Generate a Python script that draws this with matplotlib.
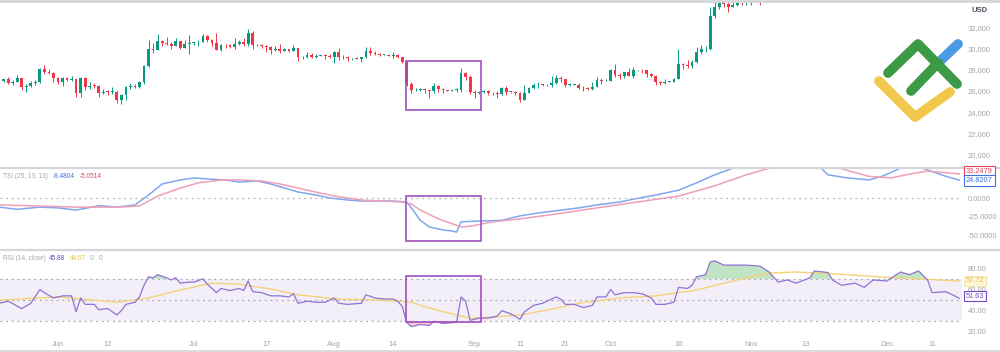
# BTC/USD daily chart with TSI and RSI panes
import pandas as pd
import matplotlib
matplotlib.use("Agg")
import matplotlib.pyplot as plt
import matplotlib.dates as mdates
from matplotlib.patches import Rectangle
from matplotlib.lines import Line2D

plt.rcParams['font.family'] = ['Liberation Sans', 'DejaVu Sans']

##### data - daily candles, 2023-05-19 .. 2023-11-04
candle_start = "2023-05-19"
candle_end = "2023-11-04"

opens = [
    26820, 26890, 27120, 26750, 26850, 27225, 26330, 26475, 26720, 26870, 28085, 27745, 27700,
    27220, 26820, 27250, 27075, 27120, 25760, 27240, 26345, 26500, 26480, 25850, 25940, 25900, 25940, 25130,
    25585, 26330, 26510, 26340, 26845, 28310, 30000, 29900, 30690, 30550, 30470, 30270, 30690, 30080, 30450,
    30480, 30590, 30620, 31160, 30770, 30510, 29900, 30350, 30290, 30170, 30410, 30620, 30390, 31480, 30330,
    30300, 30250, 30140, 29860, 29910, 29800, 29910, 29790, 30080, 29180, 29230, 29350, 29210, 29310, 29350, 29280,
    29230, 29700, 29180, 29180, 29070, 29090, 29050, 29180, 29770, 29580, 29440, 29400, 29420, 29280, 29410,
    29170, 28700, 26630, 26050, 26100, 26190, 26120, 26040, 26430, 26160, 26050, 26000, 26090, 26100, 27730, 27300,
    25930, 25800, 25870, 25970, 25830, 25780, 25750, 26240, 25900, 25900, 25840, 25160, 25840, 26230, 26540,
    26600, 26570, 26530, 26760, 27210, 27130, 26570, 26580, 26580, 26260, 26300, 26220, 26370, 27020, 26910,
    26970, 27990, 27500, 27430, 27790, 27410, 27950, 27970, 27940, 27580, 27390, 26870, 26760, 26860, 26860,
    27160, 28520, 28420, 28330, 28720, 29680, 29920, 30000, 33090, 33900, 34500, 34160, 33910, 34090, 34540, 34500,
    34670, 35440, 34940, 34730,
]
highs = [
    27180, 27160, 27270, 27050, 27480, 27225, 26620, 26930, 26990, 28190, 28430, 28030, 27830,
    27350, 27300, 27310, 27440, 27130, 27340, 27360, 26800, 26780, 26530, 26200, 26090, 26400, 26080, 25750,
    26470, 26780, 26690, 26960, 28400, 30780, 30500, 31400, 30800, 31040, 30650, 31000, 30700, 30840, 31260,
    30650, 30770, 31380, 31310, 30880, 31500, 30440, 30380, 30430, 31030, 30790, 30980, 31800, 31630, 30390,
    30440, 30330, 30240, 30190, 30410, 30050, 29990, 30330, 30090, 29330, 29670, 29560, 29520, 29400, 29440, 29500,
    29730, 30040, 29410, 29310, 29110, 29160, 29240, 30180, 30130, 29720, 29540, 29470, 29470, 29660, 29450,
    29220, 28780, 26810, 26260, 26290, 26250, 26130, 26790, 26550, 26310, 26080, 26170, 26230, 28130, 27750, 27490,
    26130, 25970, 26120, 26080, 25860, 26020, 26400, 26420, 25940, 25970, 25880, 26520, 26370, 26790, 26880,
    26660, 26620, 27410, 27480, 27370, 27150, 26720, 26630, 26730, 26420, 26390, 26820, 27280, 27230, 27080,
    28060, 28580, 27660, 27830, 28120, 28270, 28020, 28090, 27990, 27720, 27470, 26950, 27100, 26960, 27260,
    29970, 28600, 28920, 28890, 30180, 30300, 30200, 33920, 35200, 35080, 34780, 34440, 34450, 34760, 34850, 34710,
    35570, 35980, 34950, 35260,
]
lows = [
    26650, 26830, 26700, 26560, 26820, 26090, 25880, 26350, 26600, 26780, 27560, 27560, 26840,
    26620, 26510, 26920, 26980, 25400, 25400, 26130, 26220, 26300, 25400, 25700, 25650, 25720, 24820, 24800,
    25180, 26160, 26300, 26260, 26660, 28280, 29620, 29830, 30280, 30300, 29930, 30230, 29940, 30050, 29500,
    30330, 30230, 30570, 30660, 30230, 29870, 29720, 30050, 30090, 29960, 30300, 30220, 30260, 29970, 30260,
    30080, 29670, 29520, 29770, 29600, 29720, 29640, 29740, 28860, 29050, 29100, 29100, 29140, 29260, 29040, 29110,
    28620, 28960, 28970, 28780, 28960, 28990, 28700, 29130, 29380, 29350, 29330, 29360, 29250, 29080, 29060,
    28680, 26500, 25800, 25990, 26010, 25810, 25370, 25800, 25860, 25780, 25980, 25980, 25880, 25910, 27030, 25700,
    25330, 25730, 25800, 25640, 25580, 25380, 25620, 25660, 25820, 25580, 24920, 25140, 25780, 26170, 26250,
    26480, 26420, 26390, 26680, 26860, 26380, 26480, 26520, 26220, 26000, 26110, 26100, 26340, 26680, 26890,
    26950, 27330, 27170, 27220, 27370, 27200, 27860, 27700, 27290, 27300, 26560, 26560, 26690, 26810, 26840,
    27120, 28110, 28180, 28150, 28640, 29480, 29690, 29880, 32880, 33700, 33880, 33450, 33870, 34050, 34120, 34100,
    34130, 34420, 34120, 34580,
]
closes = [
    26890, 27120, 26750, 26850, 27225, 26330, 26475, 26720, 26870, 28085, 27745, 27700, 27220,
    26820, 27250, 27075, 27120, 25760, 27240, 26345, 26500, 26480, 25850, 25940, 25900, 25940, 25130, 25585,
    26330, 26510, 26340, 26845, 28310, 30000, 29900, 30690, 30550, 30470, 30270, 30690, 30080, 30450, 30480,
    30590, 30620, 31160, 30770, 30510, 29900, 30350, 30290, 30170, 30410, 30620, 30390, 31480, 30330, 30300,
    30250, 30140, 29860, 29910, 29800, 29910, 29790, 30080, 29180, 29230, 29350, 29210, 29310, 29350, 29280, 29230,
    29700, 29180, 29180, 29070, 29090, 29050, 29180, 29770, 29580, 29440, 29400, 29420, 29280, 29410, 29170,
    28700, 26630, 26050, 26100, 26190, 26120, 26040, 26430, 26160, 26050, 26000, 26090, 26100, 27730, 27300, 25930,
    25800, 25870, 25970, 25830, 25780, 25750, 26240, 25900, 25900, 25840, 25160, 25840, 26230, 26540, 26600,
    26570, 26530, 26760, 27210, 27130, 26570, 26580, 26580, 26260, 26300, 26220, 26370, 27020, 26910, 26970,
    27990, 27500, 27430, 27790, 27410, 27950, 27970, 27940, 27580, 27390, 26870, 26760, 26860, 26860, 27160,
    28520, 28420, 28330, 28720, 29680, 29920, 30000, 33090, 33900, 34500, 34160, 33910, 34090, 34540, 34500, 34670,
    35440, 34940, 34730, 35080,
]

##### TSI (25, 13, 13) - sampled from the chart
tsi_dates = [
    "05-19", "05-23", "05-28", "06-01", "06-05", "06-10", "06-14", "06-18", "06-21", "06-24", "06-28",
    "07-01", "07-05", "07-08", "07-11", "07-15", "07-18", "07-21", "07-24", "07-28", "07-31", "08-04",
    "08-07", "08-10", "08-14", "08-17", "08-18", "08-20", "08-22", "08-25", "08-27", "08-28", "08-29",
    "09-02", "09-07", "09-11", "09-15", "09-19", "09-24", "09-28", "10-03", "10-07", "10-11", "10-16",
    "10-20", "10-24", "10-28", "11-01", "11-07", "11-11", "11-16", "11-18", "11-22", "11-27", "11-30",
    "12-04", "12-07", "12-10", "12-14", "12-17",
]
tsi_values = [
    -12, -15, -12, -13, -16, -10, -12, -9, 4.5, 19.5, 25,
    27.7, 26, 25, 22, 23.6, 19.5, 14, 8.6, 4.5, 0.4, -2.3,
    -3.7, -3.7, -3.7, -5, -13, -30, -39, -43, -44.5, -46, -32,
    -31, -30, -24, -20, -17, -13, -9, -5, 0, 4.5, 11,
    21, 32, 41, 55, 62, 55, 44, 32, 28, 25, 30,
    41, 46, 38.5, 30, 24.8207,
]
signal_dates = [
    "05-19", "05-28", "06-05", "06-14", "06-19", "06-23", "06-28", "07-02", "07-07", "07-11", "07-16",
    "07-20", "07-24", "07-29", "08-02", "08-07", "08-11", "08-16", "08-18", "08-20", "08-24", "08-29",
    "08-31", "09-05", "09-11", "09-19", "09-28", "10-07", "10-16", "10-24", "10-31", "11-05", "11-11",
    "11-18", "11-22", "11-27", "12-02", "12-06", "12-10", "12-17",
]
signal_values = [
    -9, -10.5, -12, -12, -10.5, 3, 14, 21, 25, 25, 23.6,
    19.5, 14, 7, 2, -2.3, -3.7, -5, -7.8, -16, -28, -39,
    -38, -32, -28, -21.4, -13, -5, 3, 17, 32, 41, 48,
    45, 38.5, 30, 27.7, 33, 37, 33.2479,
]

##### RSI (14, close) and its moving average
rsi_dates = [
    "05-19", "05-21", "05-24", "05-26", "05-28", "05-29", "05-31", "06-02", "06-04", "06-05", "06-06",
    "06-07", "06-09", "06-10", "06-12", "06-14", "06-15", "06-16", "06-18", "06-19", "06-20", "06-21",
    "06-22", "06-23", "06-25", "06-26", "06-27", "06-28", "06-30", "07-01", "07-03", "07-04", "07-06",
    "07-07", "07-09", "07-11", "07-12", "07-13", "07-14", "07-16", "07-18", "07-20", "07-22", "07-23",
    "07-24", "07-26", "07-28", "07-30", "08-01", "08-02", "08-04", "08-07", "08-08", "08-10", "08-12",
    "08-14", "08-15", "08-16", "08-17", "08-18", "08-20", "08-22", "08-23", "08-25", "08-28", "08-29",
    "08-30", "08-31", "09-02", "09-04", "09-06", "09-07", "09-09", "09-11", "09-12", "09-14", "09-16",
    "09-19", "09-20", "09-21", "09-23", "09-25", "09-27", "09-28", "09-30", "10-01", "10-02", "10-04",
    "10-06", "10-08", "10-10", "10-11", "10-13", "10-15", "10-16", "10-18", "10-19", "10-20", "10-22",
    "10-23", "10-24", "10-26", "10-28", "10-31", "11-03", "11-05", "11-07", "11-09", "11-11", "11-14",
    "11-15", "11-18", "11-19", "11-21", "11-24", "11-26", "11-28", "12-01", "12-04", "12-06", "12-08",
    "12-10", "12-11", "12-14", "12-16", "12-17",
]
rsi_values = [
    47, 49, 42, 47, 60, 57, 52, 54, 54, 39, 52,
    46, 46, 41, 42, 36, 40, 46, 48, 53, 64, 72,
    71, 74, 71, 69, 71, 66, 67, 67, 70, 65, 57,
    61, 59, 61, 59, 68, 58, 57, 54, 54, 53, 56,
    47, 49, 48, 48, 52, 47, 46, 47, 55, 52, 51,
    51, 49, 44, 29, 25, 27, 26, 30, 28, 29, 53,
    49, 31, 33, 33, 35, 40, 37, 32, 39, 45, 47,
    53, 51, 46, 46, 43, 45, 53, 53, 60, 55, 57,
    57, 56, 52, 46, 46, 48, 62, 61, 64, 72, 74,
    86, 87, 83, 83, 83, 82, 76.5, 67, 69, 66, 71,
    77.5, 76, 69, 64, 66, 62, 69, 68, 76.5, 74, 77.5,
    69, 57, 58, 54, 51.63,
]
rsi_ma_dates = [
    "05-19", "06-01", "06-14", "06-21", "06-28", "07-05", "07-11", "07-18", "07-24", "08-02", "08-11",
    "08-18", "08-22", "08-27", "08-31", "09-05", "09-11", "09-17", "09-24", "10-03", "10-11", "10-20",
    "10-29", "11-05", "11-11", "11-20", "11-29", "12-08", "12-17",
]
rsi_ma_values = [
    50, 53, 48, 52, 59.5, 66, 65, 60.5, 55, 51, 50,
    48, 42.5, 37, 33, 34, 36, 40.6, 47, 52, 54, 59.5,
    69, 75.6, 76.5, 74.6, 72, 70, 68,
]

price_ticks = [20000, 22000, 24000, 26000, 28000, 30000, 32000]
tsi_ticks = [-50, -25, 0]
rsi_ticks = [20, 40, 60, 80]
x_tick_dates = ["06-01", "06-12", "07-01", "07-17", "08-01", "08-14", "09-01", "09-11",
                "09-21", "10-01", "10-16", "11-01", "11-13", "12-01", "12-11"]
x_tick_labels = ["Jun", "12", "Jul", "17", "Aug", "14", "Sep", "11",
                 "21", "Oct", "16", "Nov", "13", "Dec", "11"]

##### colours
UP = '#089981'
DOWN = '#f23645'
TSI_C = '#7fa6ee'
SIG_C = '#ef9fb6'
RSI_C = '#8f72d4'
MA_C = '#f3d27a'
BOX_C = '#a14fbf'
TXT = '#a3a6af'


def to_num(md):
    return mdates.date2num(pd.Timestamp("2023-" + md))


def main():
    W, H = 1000, 352
    fig = plt.figure(figsize=(W / 100, H / 100), dpi=100)

    # pixel box -> figure fraction
    def pane(top, bottom, right=962):
        return [0, (H - bottom) / H, right / W, (bottom - top) / H]

    ax_p = fig.add_axes(pane(2, 167))
    ax_t = fig.add_axes(pane(169, 249))
    ax_r = fig.add_axes(pane(251, 335))

    x0 = to_num("06-01") - 12.8
    x1 = to_num("06-01") + 199.6
    for ax in (ax_p, ax_t, ax_r):
        ax.set_xlim(x0, x1)
        for s in ax.spines.values():
            s.set_visible(False)
        ax.yaxis.tick_right()
        ax.tick_params(axis='y', length=0, pad=4, labelsize=5.5, labelcolor=TXT)
        ax.tick_params(axis='x', length=0)
        ax.set_xticks([])

    ##### Step 1 - candles
    days = mdates.date2num(pd.date_range(candle_start, candle_end, freq='D'))
    df = pd.DataFrame({'x': days, 'o': opens, 'h': highs, 'l': lows, 'c': closes})
    df['color'] = [UP if c >= o else DOWN for o, c in zip(df['o'], df['c'])]
    ax_p.vlines(df['x'], df['l'], df['h'], colors=df['color'], lw=0.7)
    body_lo = df[['o', 'c']].min(axis=1)
    body_h = (df['c'] - df['o']).abs().clip(lower=60)
    ax_p.bar(df['x'], body_h, bottom=body_lo, width=0.62, color=df['color'], lw=0)
    ax_p.set_ylim(18826, 34386)
    ax_p.set_yticks(price_ticks)
    ax_p.set_yticklabels([f'{v:,}' for v in price_ticks])

    ##### Step 2 - TSI pane
    ax_t.plot([to_num(d) for d in tsi_dates], tsi_values, color=TSI_C, lw=1.1)
    ax_t.plot([to_num(d) for d in signal_dates], signal_values, color=SIG_C, lw=1.1)
    ax_t.axhline(0, color='#b2b5be', lw=0.9, ls=(0, (1.5, 3)))
    ax_t.set_ylim(-69, 39.9)
    ax_t.set_yticks(tsi_ticks)
    ax_t.set_yticklabels([f'{v:.4f}' for v in tsi_ticks])

    ##### Step 3 - RSI pane
    rx = [to_num(d) for d in rsi_dates]
    ax_r.axhspan(30, 70, color='#7e57c2', alpha=0.09, lw=0)
    for lvl in (70, 50, 30):
        ax_r.axhline(lvl, color='#a9a9b8', lw=0.9, ls=(0, (1.5, 3)))
    ax_r.fill_between(rx, rsi_values, 70, where=[v > 70 for v in rsi_values],
                      interpolate=True, color='#8fcf95', alpha=0.55, lw=0)
    ax_r.fill_between(rx, rsi_values, 30, where=[v < 30 for v in rsi_values],
                      interpolate=True, color='#f5a3ad', alpha=0.55, lw=0)
    ax_r.plot([to_num(d) for d in rsi_ma_dates], rsi_ma_values, color=MA_C, lw=1.0)
    ax_r.plot(rx, rsi_values, color=RSI_C, lw=0.9)
    ax_r.set_ylim(17.1, 96.3)
    ax_r.set_yticks(rsi_ticks)
    ax_r.set_yticklabels([f'{v:.2f}' for v in rsi_ticks])

    ax_r.set_xticks([to_num(d) for d in x_tick_dates])
    ax_r.set_xticklabels(x_tick_labels)
    ax_r.tick_params(axis='x', length=0, pad=4.5, labelsize=5.5, labelcolor=TXT)

    ##### Step 4 - purple highlight boxes over the Aug 17 crash
    bx0, bx1 = to_num("08-17") - 0.1, to_num("09-02") + 0.4
    for ax, (lo, hi) in ((ax_p, (24200, 28820)), (ax_t, (-58.2, 3.1)), (ax_r, (29.3, 72.7))):
        ax.add_patch(Rectangle((bx0, lo), bx1 - bx0, hi - lo, fill=False,
                               edgecolor=BOX_C, lw=1.2, zorder=5))

    ##### Step 5 - separators, headers, value labels
    def fx(x):
        return x / W

    def fy(y):
        return (H - y) / H

    for y, lw in ((1, 2.0), (168, 1.6), (250, 1.6), (350.5, 1.2)):
        fig.add_artist(Line2D([0, 1], [fy(y), fy(y)], color='#d4d6db', lw=lw))

    fig.text(fx(972), fy(10), 'USD', fontsize=5.5, color='#50535e', va='center', weight='bold')

    hs = 4.7
    fig.text(fx(3), fy(176.5), 'TSI (25, 13, 13)', fontsize=hs, color=TXT, va='center')
    fig.text(fx(53), fy(176.5), '-8.4804', fontsize=hs, color='#3f6fe0', va='center')
    fig.text(fx(80), fy(176.5), '-5.0514', fontsize=hs, color='#e0405e', va='center')

    fig.text(fx(3), fy(258.5), 'RSI (14, close)', fontsize=hs, color=TXT, va='center')
    fig.text(fx(49), fy(258.5), '45.88', fontsize=hs, color='#6f4ec0', va='center')
    fig.text(fx(70), fy(258.5), '44.67', fontsize=hs, color='#e9c23a', va='center')
    fig.text(fx(90), fy(258.5), '0', fontsize=hs, color=TXT, va='center')
    fig.text(fx(99), fy(258.5), '0', fontsize=hs, color=TXT, va='center')

    def tag(x, y, s, fg, edge, face='white'):
        fig.text(fx(x), fy(y), s, fontsize=5.3, color=fg, va='center', zorder=10,
                 bbox=dict(boxstyle='square,pad=0.25', fc=face, ec=edge, lw=0.8))

    tag(966, 171.7, '33.2479', '#e0405e', '#e0405e')
    tag(966, 180.3, '24.8207', '#3f6fe0', '#3f6fe0')
    tag(966, 281, '57.72', '#e2bd3a', '#f6e7b0', face='#fff6d8')
    tag(966, 296, '51.63', '#6f4ec0', '#6f4ec0')

    ##### Step 6 - logo (pixel strokes)
    def stroke(pts, color, lw=7.0):
        fig.add_artist(Line2D([fx(p[0]) for p in pts], [fy(p[1]) for p in pts], color=color,
                              lw=lw, solid_capstyle='round', solid_joinstyle='round'))

    stroke([(879, 81), (915, 117), (950, 92)], '#f1c84b')
    stroke([(938, 63), (958, 44)], '#4a9be3')
    stroke([(888, 73), (918, 44), (957, 84)], '#3c9a46')
    stroke([(911, 91), (938, 63)], '#3c9a46')

    fig.savefig('out.png', dpi=100)
    plt.close(fig)


if __name__ == "__main__":
    main()
